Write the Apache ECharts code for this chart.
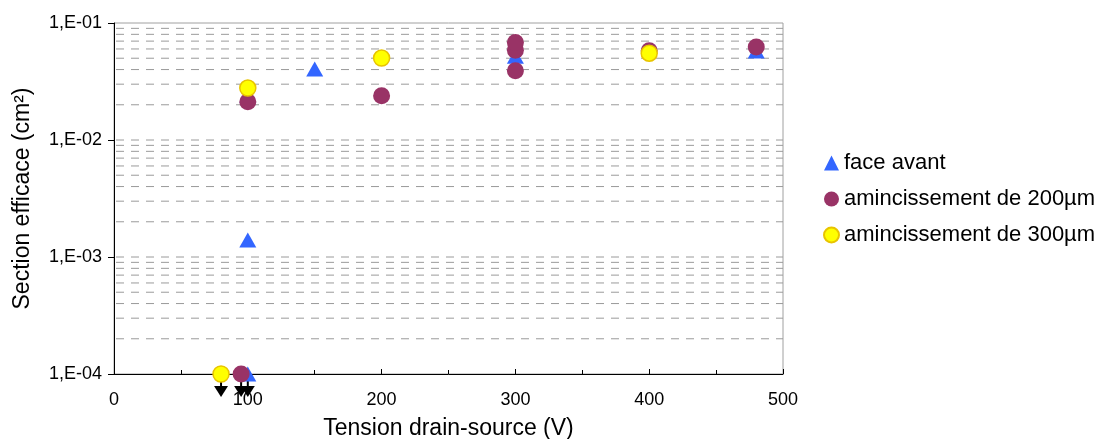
<!DOCTYPE html>
<html>
<head>
<meta charset="utf-8">
<script src="https://cdn.jsdelivr.net/npm/echarts@6/dist/echarts.min.js"></script>
<style>
  html, body { margin: 0; padding: 0; background: #fff; }
  #chart { width: 1101px; height: 439px; }
</style>
</head>
<body>
<div id="chart"></div>
<script>
// face avant (blue triangles)
const faceAvant = [[100, 1e-4], [100, 0.0014], [100, 0.024], [150, 0.0405], [300, 0.052], [480, 0.0576]];
// amincissement de 200µm (purple circles)
const amin200 = [[95, 1e-4], [100, 0.0212], [200, 0.0239], [300, 0.039], [300, 0.0585], [300, 0.068], [400, 0.058], [480, 0.0624]];
// amincissement de 300µm (yellow circles)
const amin300 = [[80, 1e-4], [100, 0.0278], [200, 0.0502], [400, 0.0552]];
// points below detection limit (drawn with a downward arrow)
const limitPoints = [[80, 1e-4], [95, 1e-4], [100, 1e-4]];

const seriesNames = ['face avant', 'amincissement de 200µm', 'amincissement de 300µm'];

// dashed horizontal grid lines at 1..9 of each decade
const gridVals = [];
[1e-4, 1e-3, 1e-2].forEach((d) => {
  for (let k = 1; k <= 9; k++) {
    if (d === 1e-4 && k === 1) continue;
    gridVals.push(d * k);
  }
});

const font = 'Liberation Sans, Arial, sans-serif';

const options = {
  animation: false,
  textStyle: { fontFamily: font },
  grid: {
    left: 114,
    top: 23,
    right: 318,
    bottom: 65,
    containLabel: false,
    outerBoundsMode: 'none',
    show: true,
    borderColor: '#a0a0a0',
    borderWidth: 1,
  },
  legend: {
    orient: 'vertical',
    left: 818,
    top: 147,
    itemGap: 14,
    itemWidth: 15,
    itemHeight: 15,
    textStyle: { fontSize: 22, color: '#000', fontFamily: font },
    data: [
      { name: seriesNames[0], icon: 'triangle' },
      { name: seriesNames[1], icon: 'circle' },
      { name: seriesNames[2], icon: 'circle' },
    ],
  },
  xAxis: {
    type: 'value',
    min: 0,
    max: 500,
    interval: 100,
    name: 'Tension drain-source (V)',
    nameLocation: 'middle',
    nameGap: 43,
    nameTextStyle: { fontSize: 23, color: '#000', fontFamily: font },
    axisLine: { lineStyle: { color: '#000', width: 1 } },
    axisTick: { inside: true, length: 5, lineStyle: { color: '#000' } },
    minorTick: { show: true, splitNumber: 2, length: 4, lineStyle: { color: '#000' } },
    axisLabel: { fontSize: 18, color: '#000', margin: 17, fontFamily: font },
    splitLine: { show: false },
  },
  yAxis: {
    type: 'log',
    logBase: 10,
    min: 1e-4,
    max: 0.1,
    name: 'Section efficace (cm²)',
    nameLocation: 'middle',
    nameGap: 80,
    nameTextStyle: { fontSize: 23, color: '#000', fontFamily: font },
    axisLine: { show: true, lineStyle: { color: '#000', width: 1 } },
    axisTick: { show: true, length: 6, lineStyle: { color: '#000' } },
    axisLabel: {
      fontSize: 18,
      color: '#000',
      margin: 12,
      fontFamily: font,
      formatter: (v) => '1,E-0' + Math.round(-Math.log10(v)),
    },
    splitLine: { show: false },
  },
  series: [
    {
      name: 'grid',
      type: 'custom',
      silent: true,
      z: 1,
      data: gridVals.map((v) => [0, v]),
      renderItem: (params, api) => {
        const a = api.coord([0, api.value(1)]);
        const b = api.coord([500, api.value(1)]);
        return {
          type: 'line',
          shape: { x1: a[0] + 2, y1: a[1], x2: b[0], y2: b[1] },
          style: { stroke: '#9a9a9a', lineWidth: 1, lineDash: [8, 7] },
        };
      },
    },
    {
      name: seriesNames[0],
      type: 'scatter',
      symbol: 'triangle',
      symbolSize: [17, 15],
      itemStyle: { color: '#3366ff', opacity: 1 },
      data: faceAvant,
      z: 3,
    },
    {
      name: seriesNames[1],
      type: 'scatter',
      symbol: 'circle',
      symbolSize: 17,
      itemStyle: { color: '#993366', opacity: 1 },
      data: amin200,
      z: 4,
    },
    {
      name: seriesNames[2],
      type: 'scatter',
      symbol: 'circle',
      symbolSize: 16,
      itemStyle: { color: '#ffff00', borderColor: '#e8c400', borderWidth: 1.5, opacity: 1 },
      data: amin300,
      z: 5,
    },
    {
      name: 'limit',
      type: 'custom',
      z: 2,
      data: limitPoints,
      renderItem: (params, api) => {
        const p = api.coord([api.value(0), api.value(1)]);
        return {
          type: 'group',
          children: [
            {
              type: 'line',
              shape: { x1: p[0], y1: p[1], x2: p[0], y2: p[1] + 16 },
              style: { stroke: '#000', lineWidth: 2 },
            },
            {
              type: 'polygon',
              shape: { points: [[p[0] - 7, p[1] + 12], [p[0] + 7, p[1] + 12], [p[0], p[1] + 23]] },
              style: { fill: '#000' },
            },
          ],
        };
      },
    },
  ],
};

const myChart = echarts.init(document.getElementById('chart'));
myChart.setOption(options);
</script>
</body>
</html>
